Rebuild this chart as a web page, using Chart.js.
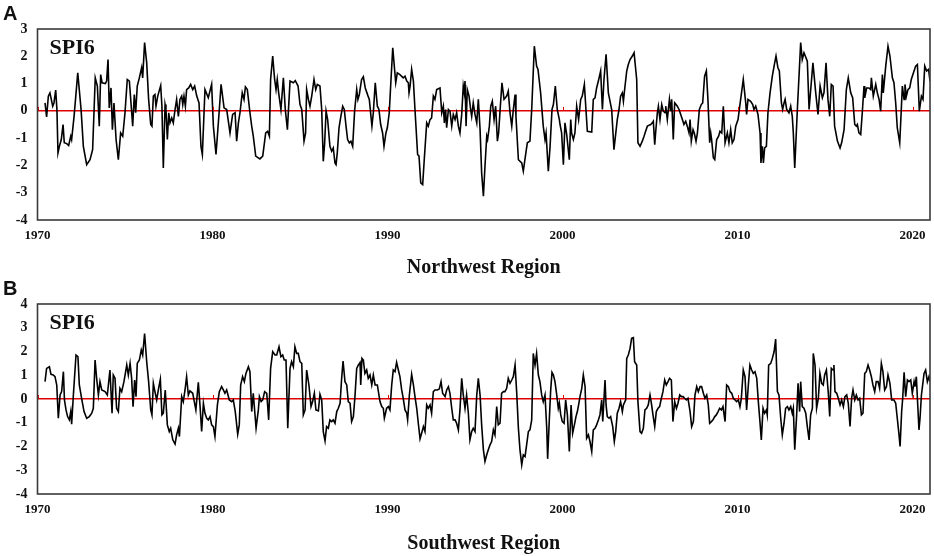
<!DOCTYPE html>
<html>
<head>
<meta charset="utf-8">
<script src="https://cdn.jsdelivr.net/npm/chart.js@4"></script>
<style>
  body { margin: 0; background: #fff; }
  #wrap { position: relative; width: 934px; height: 556px; }
  .panel { position: absolute; left: 0; width: 934px; height: 278px; }
  .tag { position: absolute; left: 3px; font: bold 20px "Liberation Sans", Arial, sans-serif; color: #111; }
</style>
</head>
<body>
<div id="wrap">
  <div class="panel" style="top:0"><canvas id="chartA" width="934" height="278"></canvas></div>
  <div class="panel" style="top:278px"><canvas id="chartB" width="934" height="278"></canvas></div>
  <div class="tag" style="top:2px">A</div>
  <div class="tag" style="top:277px">B</div>
</div>
<script>
// SPI6 (decimal year, value)
const nwYears = [1970.43,1970.52,1970.62,1970.71,1970.87,1970.94,1971.04,1971.11,1971.17,1971.25,1971.36,1971.46,1971.53,1971.67,1971.78,1971.90,1971.95,1972.09,1972.30,1972.49,1972.62,1972.81,1973.00,1973.15,1973.30,1973.42,1973.53,1973.61,1973.69,1973.88,1973.95,1974.03,1974.10,1974.20,1974.28,1974.37,1974.49,1974.62,1974.75,1974.87,1975.00,1975.13,1975.25,1975.44,1975.53,1975.61,1975.70,1975.82,1975.95,1976.01,1976.12,1976.24,1976.35,1976.47,1976.54,1976.62,1976.71,1976.77,1976.87,1977.04,1977.11,1977.19,1977.29,1977.34,1977.42,1977.50,1977.57,1977.67,1977.76,1977.86,1977.95,1978.05,1978.14,1978.24,1978.30,1978.37,1978.45,1978.52,1978.64,1978.75,1978.87,1978.98,1979.10,1979.23,1979.34,1979.42,1979.57,1979.76,1979.95,1980.05,1980.20,1980.39,1980.49,1980.66,1980.81,1981.00,1981.15,1981.29,1981.38,1981.48,1981.57,1981.70,1981.80,1981.88,1981.99,1982.14,1982.24,1982.33,1982.47,1982.71,1982.87,1983.04,1983.15,1983.25,1983.32,1983.44,1983.55,1983.63,1983.70,1983.78,1983.91,1984.05,1984.16,1984.28,1984.43,1984.62,1984.73,1984.89,
  1985.00,1985.10,1985.23,1985.32,1985.38,1985.48,1985.57,1985.67,1985.80,1985.90,1985.99,1986.14,1986.24,1986.33,1986.41,1986.49,1986.58,1986.71,1986.81,1986.90,1987.00,1987.06,1987.13,1987.23,1987.32,1987.44,1987.53,1987.63,1987.72,1987.82,1987.91,1988.01,1988.12,1988.24,1988.31,1988.39,1988.52,1988.62,1988.73,1988.89,1988.96,1989.11,1989.19,1989.30,1989.42,1989.51,1989.61,1989.72,1989.80,1989.91,1989.99,1990.10,1990.20,1990.30,1990.47,1990.56,1990.71,1990.90,1991.00,1991.10,1991.19,1991.23,1991.29,1991.38,1991.48,1991.57,1991.72,1991.80,1991.90,1992.01,1992.10,1992.24,1992.33,1992.43,1992.52,1992.62,1992.71,1992.81,1993.00,1993.10,1993.19,1993.25,1993.32,1993.38,1993.48,1993.57,1993.67,1993.76,1993.86,1993.95,1994.05,1994.14,1994.24,1994.33,1994.39,1994.43,1994.49,1994.56,1994.66,1994.75,1994.81,1994.90,1995.00,1995.10,1995.19,1995.29,1995.38,1995.48,1995.57,1995.67,1995.72,1995.82,1995.90,1995.99,1996.09,1996.18,1996.28,1996.35,1996.43,1996.54,1996.66,1996.81,1996.90,1997.00,1997.10,1997.19,1997.29,1997.34,1997.48,1997.67,1997.76,1997.88,1997.99,1998.14,1998.24,1998.39,1998.52,1998.60,1998.75,1998.90,1999.00,1999.06,1999.19,1999.29,1999.40,1999.48,1999.59,1999.70,1999.82,1999.86,1999.95,2000.05,2000.14,2000.24,2000.39,2000.47,2000.52,2000.62,2000.71,2000.81,2000.92,2001.04,2001.13,2001.25,2001.34,2001.42,2001.67,2001.76,2001.86,2001.95,2002.07,2002.18,2002.28,2002.37,2002.49,2002.62,2002.81,
  2002.94,2003.13,2003.23,2003.32,2003.42,2003.48,2003.55,2003.67,2003.76,2003.86,2003.99,2004.09,2004.24,2004.31,2004.43,2004.56,2004.66,2004.75,2004.85,2005.04,2005.13,2005.19,2005.27,2005.32,2005.42,2005.48,2005.57,2005.67,2005.76,2005.86,2005.90,2005.99,2006.11,2006.18,2006.24,2006.33,2006.41,2006.49,2006.56,2006.66,2006.85,2006.94,2007.04,2007.13,2007.23,2007.29,2007.36,2007.46,2007.53,2007.63,2007.71,2007.82,2007.93,2008.01,2008.12,2008.22,2008.31,2008.41,2008.47,2008.52,2008.62,2008.70,2008.81,2008.92,2009.00,2009.10,2009.19,2009.29,2009.42,2009.51,2009.61,2009.70,2009.80,2009.90,2010.03,2010.18,2010.33,2010.47,2010.52,2010.60,2010.75,2010.87,2010.94,2011.04,2011.17,2011.29,2011.34,2011.42,2011.48,2011.55,2011.65,2011.74,2011.86,2011.99,2012.09,2012.20,2012.31,2012.39,2012.51,2012.58,2012.66,2012.72,2012.81,2012.94,2013.04,2013.13,2013.19,2013.27,2013.42,2013.61,2013.70,2013.80,2013.99,2014.09,2014.31,2014.47,2014.60,2014.72,2014.85,2014.94,2015.06,2015.17,2015.27,2015.36,2015.46,2015.55,2015.71,2015.86,2015.95,2016.09,2016.22,2016.33,2016.47,2016.58,2016.70,2016.79,2016.85,2016.94,2017.04,2017.13,2017.23,2017.27,2017.38,2017.51,2017.61,2017.65,2017.76,2017.90,2017.99,2018.09,2018.18,2018.28,2018.33,2018.47,2018.60,2018.71,2018.85,2018.94,2019.04,2019.13,2019.27,2019.36,2019.42,2019.52,2019.57,2019.65,2019.74,2019.84,2019.93,2020.05,2020.18,2020.28,2020.39,2020.51,2020.60,2020.70,2020.81,2020.92,2021.00];
const nwSpi = [0.29,-0.22,0.54,0.66,0.17,0.29,0.76,0.05,-1.54,-1.30,-1.05,-0.50,-1.17,-1.20,-1.27,-0.93,-1.05,-0.20,1.39,0.05,-1.30,-1.97,-1.79,-1.42,1.21,0.91,-0.56,1.33,1.03,1.00,1.09,1.88,0.11,0.84,-0.69,0.29,-1.05,-1.79,-0.81,-0.93,-0.07,1.15,1.09,-0.56,0.60,-0.07,0.91,1.21,1.58,1.21,2.50,1.76,0.42,-0.50,-0.56,0.54,0.60,0.17,0.54,0.93,0.17,-2.09,0.23,0.05,-1.05,-0.07,-0.44,-0.26,-0.44,0.05,0.42,-0.20,0.42,0.54,0.23,0.54,0.17,0.78,0.84,0.97,0.78,0.91,0.54,0.29,-1.30,-1.60,0.78,0.48,0.97,-0.56,-1.60,0.05,0.97,0.11,0.05,-0.81,-0.13,-0.07,-1.11,-0.44,-0.07,0.66,0.42,0.88,0.78,-0.07,-0.56,-0.93,-1.66,-1.76,-1.66,-0.81,-0.75,-0.93,1.15,2.01,1.15,0.78,1.15,0.66,0.05,1.21,0.05,-0.69,1.09,1.03,1.11,0.91,
  0.23,0.05,-1.11,-0.81,0.78,0.42,0.17,0.54,1.15,0.78,0.97,0.91,0.05,-1.85,-1.17,-0.01,-0.32,-1.30,-1.48,-1.36,-1.91,-1.97,-1.54,-0.62,-0.26,0.17,0.05,-0.56,-1.05,-1.17,-1.11,-1.30,-0.01,0.78,0.42,0.60,1.15,1.25,0.84,0.54,0.42,-0.56,-0.07,1.03,0.17,0.05,-0.50,-0.81,-1.30,-0.81,-0.62,-0.07,1.15,2.31,1.03,1.39,1.33,1.21,1.27,1.09,1.03,0.66,0.91,1.52,1.09,0.05,-1.60,-1.66,-2.64,-2.70,-1.79,-0.44,-0.56,-0.32,-0.26,0.54,0.42,0.78,0.84,-0.07,0.17,-0.44,0.05,-0.62,0.05,-0.01,-0.56,-0.13,-0.32,-0.07,-0.56,-0.81,-0.13,0.91,0.66,1.09,-0.56,0.78,0.54,0.05,-0.20,0.29,-0.13,-0.44,0.42,-0.69,-2.28,-3.13,-2.03,-0.93,-1.05,-0.56,0.17,0.35,-0.32,0.17,-1.11,-0.81,-0.01,1.03,0.42,0.54,0.72,-0.07,-0.56,0.05,0.60,-0.20,-1.79,-1.91,-2.21,-1.66,-1.17,-1.11,0.05,2.37,1.64,1.52,0.66,-0.56,-1.05,-0.81,-2.21,-1.30,0.05,0.23,0.91,0.05,-0.32,-0.50,-0.81,-1.97,-0.44,-0.87,-1.79,-0.32,-0.81,-1.05,-0.81,0.17,-0.32,0.42,0.54,0.97,0.05,-0.75,-0.78,0.42,0.48,0.84,1.15,1.46,0.05,1.15,2.07,0.66,0.05,
  -1.42,-0.32,0.05,0.54,0.66,0.35,0.78,1.46,1.70,1.88,2.01,2.13,1.15,-1.17,-1.30,-1.11,-0.93,-0.75,-0.56,-0.50,-0.44,-0.38,-1.24,-0.81,-0.07,0.17,-0.32,0.23,-0.01,-0.07,0.17,-0.32,0.42,-0.01,0.42,-1.05,0.29,0.23,0.17,0.05,-0.32,-0.50,-0.38,-0.56,-0.81,-0.32,-1.11,-0.69,-0.81,-1.11,-0.81,0.05,0.23,0.29,1.27,1.46,0.42,-1.17,-0.81,-1.05,-1.72,-1.79,-1.05,-0.93,-0.75,-0.81,0.17,-1.17,-0.81,-1.17,-0.69,-1.17,-1.05,-0.56,-0.32,0.42,1.15,0.29,-0.13,0.42,0.35,0.23,0.05,0.17,-0.13,-0.81,-1.91,-1.30,-1.91,-1.36,-1.30,-0.07,0.66,1.27,1.64,2.01,1.58,1.46,0.29,0.05,0.29,0.42,0.05,-0.07,0.17,-0.20,-0.81,-2.09,0.05,2.50,1.88,2.13,1.82,0.05,1.76,0.66,-0.13,0.91,0.48,0.66,1.76,0.42,-0.20,0.97,0.91,-0.56,-1.11,-1.36,-1.17,-0.69,0.78,1.21,0.66,0.48,-0.50,-0.56,-0.50,-0.81,-0.87,-0.07,0.91,0.48,0.84,0.84,0.78,1.21,0.54,0.97,0.66,0.42,-0.01,1.33,0.66,1.64,2.37,2.01,1.21,1.03,0.29,-0.62,-1.17,0.05,0.91,0.42,0.97,0.54,0.78,0.84,1.15,1.39,1.64,1.70,-0.01,0.54,0.42,1.64,1.46,1.52,1.09];

const swYears = [1970.43,1970.52,1970.68,1970.77,1970.90,1971.00,1971.10,1971.19,1971.29,1971.38,1971.48,1971.54,1971.63,1971.72,1971.82,1971.90,1971.95,1972.05,1972.20,1972.31,1972.39,1972.52,1972.66,1972.81,1972.96,1973.10,1973.19,1973.29,1973.38,1973.48,1973.57,1973.67,1973.86,1973.99,1974.14,1974.26,1974.33,1974.43,1974.52,1974.62,1974.71,1974.81,1974.94,1975.10,1975.19,1975.29,1975.38,1975.46,1975.55,1975.63,1975.70,1975.82,1975.93,1976.01,1976.12,1976.24,1976.35,1976.47,1976.54,1976.62,1976.71,1976.81,1976.92,1977.02,1977.11,1977.19,1977.30,1977.42,1977.53,1977.61,1977.73,1977.86,1977.95,1978.05,1978.11,1978.24,1978.33,1978.43,1978.52,1978.62,1978.71,1978.87,1978.96,1979.05,1979.19,1979.29,1979.38,1979.48,1979.57,1979.67,1979.76,1979.86,1979.95,1980.05,1980.14,1980.28,1980.39,1980.52,1980.62,1980.71,1980.81,1980.96,1981.10,1981.19,1981.30,1981.44,1981.53,1981.61,1981.72,1981.82,1981.91,1982.05,1982.14,1982.24,1982.33,1982.49,1982.62,1982.68,1982.78,1982.87,1982.98,1983.10,1983.21,1983.32,1983.44,1983.57,1983.67,1983.80,1983.91,1984.01,1984.10,1984.20,1984.30,1984.43,1984.52,1984.62,1984.71,1984.81,1984.90,
  1985.00,1985.10,1985.19,1985.29,1985.38,1985.51,1985.63,1985.72,1985.82,1985.91,1986.05,1986.14,1986.24,1986.33,1986.43,1986.52,1986.62,1986.71,1986.81,1986.90,1987.00,1987.10,1987.19,1987.29,1987.38,1987.46,1987.57,1987.67,1987.76,1987.86,1987.95,1988.05,1988.14,1988.24,1988.33,1988.43,1988.47,1988.54,1988.62,1988.71,1988.81,1988.90,1989.00,1989.10,1989.19,1989.29,1989.42,1989.57,1989.67,1989.76,1989.82,1989.95,1990.05,1990.14,1990.24,1990.33,1990.43,1990.52,1990.62,1990.71,1990.81,1990.90,1991.00,1991.10,1991.15,1991.25,1991.38,1991.48,1991.57,1991.67,1991.76,1991.86,1991.95,1992.05,1992.14,1992.24,1992.33,1992.43,1992.52,1992.62,1992.71,1992.85,1992.96,1993.06,1993.15,1993.29,1993.38,1993.48,1993.57,1993.67,1993.76,1993.86,1993.95,1994.05,1994.14,1994.24,1994.33,1994.43,1994.52,1994.62,1994.71,1994.81,1994.90,1995.00,1995.10,1995.19,1995.29,1995.38,1995.48,1995.57,1995.67,1995.76,1995.86,1995.95,1996.05,1996.14,1996.24,1996.33,1996.43,1996.52,1996.62,1996.71,1996.81,1996.90,1997.00,1997.10,1997.19,1997.29,1997.38,1997.48,1997.57,1997.67,1997.76,1997.86,1997.95,1998.05,1998.14,1998.24,1998.33,1998.43,1998.52,1998.62,1998.71,1998.81,1998.90,1999.00,1999.10,1999.15,1999.25,1999.32,1999.40,1999.48,1999.57,1999.67,1999.76,1999.82,1999.90,1999.99,2000.09,2000.18,2000.28,2000.39,2000.49,2000.58,2000.68,2000.77,2000.85,2000.92,2001.00,2001.10,2001.19,2001.29,2001.38,2001.48,2001.57,2001.67,2001.76,2001.86,2001.95,2002.05,2002.14,2002.24,2002.30,2002.43,2002.49,2002.56,2002.66,2002.75,2002.87,2002.96,
  2003.04,2003.13,2003.23,2003.32,2003.42,2003.48,2003.61,2003.67,2003.76,2003.86,2003.95,2004.05,2004.12,2004.24,2004.31,2004.43,2004.52,2004.62,2004.71,2004.81,2004.90,2005.00,2005.08,2005.17,2005.27,2005.36,2005.46,2005.55,2005.65,2005.74,2005.84,2005.93,2006.03,2006.12,2006.22,2006.31,2006.41,2006.51,2006.60,2006.70,2006.79,2006.89,2006.98,2007.08,2007.17,2007.29,2007.38,2007.48,2007.57,2007.67,2007.76,2007.86,2007.95,2008.05,2008.14,2008.24,2008.33,2008.41,2008.51,2008.60,2008.70,2008.79,2008.89,2008.98,2009.08,2009.17,2009.29,2009.38,2009.48,2009.57,2009.67,2009.76,2009.86,2009.95,2010.05,2010.14,2010.22,2010.33,2010.43,2010.52,2010.62,2010.71,2010.81,2010.90,2011.00,2011.10,2011.19,2011.29,2011.36,2011.46,2011.55,2011.65,2011.70,2011.78,2011.90,2011.99,2012.09,2012.18,2012.28,2012.37,2012.47,2012.56,2012.66,2012.75,2012.85,2012.94,2013.04,2013.13,2013.19,2013.27,2013.38,2013.46,2013.55,2013.61,2013.70,2013.80,2013.90,2013.99,2014.09,2014.18,2014.28,2014.33,2014.43,2014.52,2014.62,2014.71,2014.81,2014.90,2014.98,2015.08,2015.19,2015.27,2015.36,2015.46,2015.51,2015.57,2015.67,2015.76,2015.86,2015.95,2016.05,2016.14,2016.24,2016.33,2016.43,2016.52,2016.60,2016.70,2016.79,2016.89,2016.98,2017.08,2017.17,2017.27,2017.36,2017.46,2017.55,2017.65,2017.74,2017.84,2017.93,2018.03,2018.12,2018.22,2018.31,2018.41,2018.51,2018.60,2018.71,2018.81,2018.94,2019.04,2019.13,2019.23,2019.29,2019.38,2019.44,2019.52,2019.61,2019.71,2019.80,2019.90,2019.99,2020.09,2020.14,2020.22,2020.28,2020.37,2020.43,2020.51,2020.58,2020.66,2020.75,2020.85,2020.94,2021.00];
const swSpi = [0.73,1.29,1.36,1.04,1.01,0.94,0.59,-0.81,0.17,0.31,1.15,-0.04,-0.46,-0.74,-0.88,-0.53,-1.06,0.17,1.85,1.78,0.59,0.03,-0.53,-0.81,-0.74,-0.60,-0.39,1.64,0.87,0.17,0.73,0.38,0.31,0.17,1.22,-0.60,1.01,0.87,-0.39,-0.53,0.45,0.31,0.73,1.43,1.01,1.50,0.87,-0.32,0.80,0.10,1.50,1.64,2.06,1.85,2.76,1.57,0.73,-0.46,-0.67,0.66,0.31,-0.04,0.45,0.83,-0.67,-0.60,0.38,-1.09,-1.37,-1.23,-1.72,-1.90,-1.51,-1.23,-1.58,0.10,-0.11,0.38,0.94,0.17,0.34,0.24,-0.11,-0.46,0.70,-0.32,-1.37,-0.18,-0.60,-0.81,-0.88,-0.74,-1.09,-1.16,-1.58,-0.25,0.31,0.52,0.38,0.24,0.38,-0.04,-0.11,-0.04,-0.53,-1.48,-1.09,0.59,0.94,0.73,1.08,1.36,1.15,-0.53,0.24,-1.23,-0.46,0.10,-0.11,-0.04,0.31,0.24,-0.88,1.29,1.99,1.85,1.85,2.20,1.78,1.85,1.64,1.64,-1.23,1.29,1.57,1.36,2.20,1.92,1.92,
  1.57,1.50,-0.67,-0.46,1.22,0.59,-0.32,-0.11,0.24,-0.46,-0.50,0.20,-0.04,-1.37,-1.76,-1.16,-1.23,-0.88,-0.95,-0.88,-1.02,-0.53,-0.39,-0.18,0.87,1.60,0.73,0.59,-0.11,-0.18,-0.95,-0.74,0.10,1.29,1.43,1.54,0.59,1.71,1.64,1.08,1.22,0.87,1.01,0.59,1.01,0.59,0.59,-0.11,-0.32,-0.39,-0.81,-0.39,-0.32,-0.46,0.59,1.22,1.15,1.54,1.22,0.94,0.38,0.03,-0.46,-0.60,-0.88,0.17,1.04,0.59,0.10,-0.39,-1.02,-1.68,-1.44,-1.16,-1.37,-0.25,-0.39,-0.25,-0.60,0.31,0.38,0.38,0.42,0.73,0.24,0.10,0.38,0.52,0.24,-0.39,-0.88,-0.88,-1.02,-1.30,-0.46,0.87,0.17,-0.39,0.17,-0.60,-1.72,-1.37,-1.23,-1.37,0.17,0.87,0.17,-1.09,-2.14,-2.63,-2.35,-2.14,-1.93,-1.79,-1.30,-1.51,-0.32,-1.09,-1.02,0.24,0.31,0.31,0.45,0.87,0.66,0.80,0.94,1.43,0.31,-1.23,-2.14,-2.77,-2.35,-2.42,-1.93,-1.37,-1.30,-0.88,1.92,1.43,1.92,1.01,0.73,0.17,-0.11,0.17,-1.23,-2.52,-0.81,0.31,1.12,1.01,0.73,0.17,-0.39,-0.18,-0.67,-0.95,-1.02,-0.04,-0.67,-2.21,-0.25,-1.44,-1.09,-0.74,-0.53,-0.25,0.10,0.45,1.01,0.52,-1.65,-1.51,-1.79,-2.21,-1.30,-1.23,-1.09,-0.88,-0.67,-0.04,-0.95,0.80,-0.25,-0.74,-0.81,-0.74,-1.16,-1.79,
  -1.37,-0.60,-0.39,-0.11,-0.53,-0.25,-0.04,1.71,1.85,2.13,2.55,2.58,1.57,1.43,-0.11,-1.37,-1.44,-1.23,-0.46,-0.39,-0.25,0.17,-0.18,-0.67,-1.16,-0.53,-0.39,-0.32,0.03,0.31,0.80,0.59,0.73,0.87,0.80,-0.95,-0.11,-0.39,-0.18,0.17,0.10,0.10,0.03,-0.04,0.03,-0.53,-1.16,-0.95,0.17,0.52,0.31,0.52,0.52,0.24,0.03,0.17,-0.25,-1.02,-0.95,-0.88,-0.74,-0.67,-0.53,-0.39,-0.46,-0.32,-0.95,0.59,0.52,0.31,0.24,0.03,-0.04,-0.11,-0.04,-0.32,0.03,1.22,0.94,-0.46,0.59,1.43,1.22,1.08,1.15,0.87,-0.11,-1.02,-1.72,-0.39,-0.60,-0.46,-0.67,1.43,1.50,1.71,1.99,2.52,0.31,0.17,-0.81,-1.51,-1.02,-0.39,-0.32,-0.46,-0.32,-0.60,-0.39,-2.14,-0.67,0.66,-0.53,0.73,-0.32,-0.39,-0.60,-1.16,-1.72,-0.67,-0.39,1.92,1.43,-0.39,0.03,1.08,0.66,0.59,1.01,1.22,0.24,-0.74,1.29,1.22,1.43,0.31,0.24,0.03,-0.25,-0.04,-0.32,0.10,0.17,-0.18,-1.16,0.03,0.38,-0.04,0.17,-0.04,0.03,-0.67,-0.60,1.08,1.15,1.43,1.22,0.94,0.59,0.31,0.73,0.73,0.45,1.50,1.15,0.38,0.52,1.01,0.66,-0.04,-0.04,-0.18,-0.81,-1.51,-2.00,-0.53,0.03,1.12,0.10,0.80,0.73,0.80,0.24,0.73,0.52,0.94,0.03,-1.30,-0.81,0.17,0.59,1.08,1.22,0.73,0.94,0.73];

const xTickYears = [1970, 1980, 1990, 2000, 2010, 2020];
const panels = [
  { id: 'chartA', years: nwYears, spi: nwSpi, yMin: -4, yMax: 3, title: 'Northwest Region', top: 29, bottom: 220, titlePad: 0 },
  { id: 'chartB', years: swYears, spi: swSpi, yMin: -4, yMax: 4, title: 'Southwest Region', top: 26, bottom: 216, titlePad: 2 }
];

const serif = '"Liberation Serif", "Times New Roman", serif';

// box frame, SPI6 label and small red decade ticks on the zero line
const framePlugin = {
  id: 'frame',
  afterDatasetsDraw(chart) {
    const { ctx, chartArea: a, scales } = chart;
    ctx.save();
    ctx.strokeStyle = '#e00000';
    ctx.lineWidth = 1;
    const y0 = scales.y.getPixelForValue(0);
    xTickYears.forEach(v => {
      const x = Math.round(scales.x.getPixelForValue(v)) + 0.5;
      ctx.beginPath(); ctx.moveTo(x, y0); ctx.lineTo(x, y0 - 4); ctx.stroke();
    });
    ctx.strokeStyle = '#3a3a3a';
    ctx.lineWidth = 1.6;
    ctx.strokeRect(a.left, a.top, a.right - a.left, a.bottom - a.top);
    ctx.fillStyle = '#111';
    ctx.font = 'bold 22px ' + serif;
    ctx.textBaseline = 'middle';
    ctx.fillText('SPI6', a.left + 12, a.top + 19);
    ctx.restore();
  }
};

panels.forEach(p => {
  const canvasH = 278;
  const n = Math.min(p.years.length, p.spi.length);
  const points = [];
  for (let i = 0; i < n; i++) points.push({ x: p.years[i], y: p.spi[i] });
  new Chart(document.getElementById(p.id), {
    type: 'line',
    data: {
      datasets: [{
        data: points,
        borderColor: '#000',
        borderWidth: 1.6,
        pointRadius: 0,
        tension: 0,
        fill: false
      }]
    },
    options: {
      responsive: false,
      animation: false,
      devicePixelRatio: 1,
      layout: { padding: { top: p.top, right: 4, left: 0, bottom: 0 } },
      plugins: { legend: { display: false }, tooltip: { enabled: false } },
      scales: {
        x: {
          type: 'linear',
          min: 1970,
          max: 2021,
          afterBuildTicks: s => { s.ticks = xTickYears.map(v => ({ value: v })); },
          afterFit: s => { s.height = canvasH - p.bottom; },
          grid: { display: false, drawTicks: false },
          border: { display: false },
          ticks: {
            padding: 8,
            maxRotation: 0,
            color: '#111',
            font: { family: serif, size: 13, weight: 'bold' },
            callback: v => String(v)
          },
          title: {
            display: true,
            text: p.title,
            color: '#111',
            padding: { top: 0, bottom: p.titlePad },
            font: { family: serif, size: 20, weight: 'bold', lineHeight: 1 }
          }
        },
        y: {
          min: p.yMin,
          max: p.yMax,
          afterFit: s => { s.width = 37.5; },
          grid: {
            drawTicks: false,
            lineWidth: 1.5,
            color: c => (c.tick && c.tick.value === 0 ? '#e00000' : 'rgba(0,0,0,0)')
          },
          border: { display: false },
          ticks: {
            stepSize: 1,
            padding: 10,
            color: '#111',
            font: { family: serif, size: 14, weight: 'bold' }
          }
        }
      }
    },
    plugins: [framePlugin]
  });
});
</script>
</body>
</html>
